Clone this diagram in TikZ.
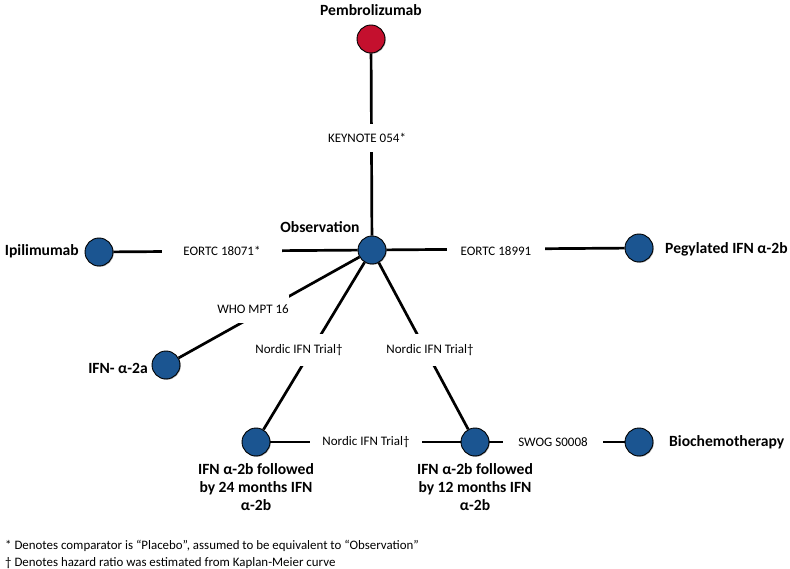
\documentclass[tikz,border=0pt]{standalone}
\usepackage{fontspec}
\setmainfont{Carlito}
\usetikzlibrary{shadows}
\definecolor{nodeblue}{RGB}{27,85,145}
\definecolor{nodered}{RGB}{196,16,46}
\tikzset{
  trt/.style={circle, draw=black, line width=0.9pt, fill=nodeblue, minimum size=28pt, inner sep=0pt,
    drop shadow={shadow xshift=0.8pt, shadow yshift=-0.8pt, opacity=0.3, fill=black}},
  trtred/.style={trt, fill=nodered},
  tname/.style={font=\fontsize{15.6}{18}\selectfont\bfseries, inner sep=0pt},
  lbl/.style={font=\fontsize{13}{15}\selectfont, fill=white, inner sep=0pt, minimum height=14pt},
  conn/.style={line width=2.7pt, draw=black},
  foot/.style={font=\fontsize{12.9}{15}\selectfont, inner sep=0pt, anchor=west}
}
\begin{document}
\begin{tikzpicture}[x=1pt, y=-1pt]
\useasboundingbox (0,0) rectangle (790,569);
% treatment nodes
\node[trtred] (pem) at (371,39) {};
\node[trt] (obs) at (372,250) {};
\node[trt] (ipi) at (99,252) {};
\node[trt] (peg) at (639,248) {};
\node[trt] (a2a) at (166,365) {};
\node[trt] (m24) at (256,442) {};
\node[trt] (m12) at (475,442) {};
\node[trt] (bio) at (639,442) {};
% names
\node[tname] (tpem) at (371,10) {Pembrolizumab};
\node[tname] (tobs) at (320,227) {Observation};
\node[tname, anchor=east] (tipi) at (79,251) {Ipilimumab};
\node[tname, anchor=west] (tpeg) at (665,249) {Pegylated IFN α-2b};
\node[tname, anchor=east] (ta2a) at (148,368) {IFN- α-2a};
\node[tname, anchor=north, align=center] (tm24) at (256,463) {IFN α-2b followed\\by 24 months IFN\\α-2b};
\node[tname, anchor=north, align=center] (tm12) at (475,463) {IFN α-2b followed\\by 12 months IFN\\α-2b};
\node[tname, anchor=west] (tbio) at (669,442) {Biochemotherapy};
% connectors
\draw[conn] (pem) -- (obs);
\draw[conn] (ipi) -- (obs);
\draw[conn] (obs) -- (peg);
\draw[conn] (obs) -- (a2a);
\draw[conn] (obs) -- (m24);
\draw[conn] (obs) -- (m12);
\draw[conn] (m24) -- (m12);
\draw[conn] (m12) -- (bio);
% trial labels
\node[lbl, minimum height=28pt, minimum width=90pt] (kn) at (367,138) {KEYNOTE 054*};
\node[lbl, minimum width=120pt] (e18071) at (222,251) {EORTC 18071*};
\node[lbl, minimum width=98pt] (e18991) at (496,251) {EORTC 18991};
\node[lbl, minimum height=28pt] (who) at (253,309) {WHO MPT 16};
\node[lbl, minimum height=32pt] (nord1) at (299,350) {Nordic IFN Trial†};
\node[lbl, minimum height=32pt] (nord2) at (430,350) {Nordic IFN Trial†};
\node[lbl, minimum width=112pt] (nord3) at (366,442) {Nordic IFN Trial†};
\node[lbl, minimum width=100pt] (swog) at (553,442) {SWOG S0008};
% footnotes
\node[foot] (f1) at (5,546) {* Denotes comparator is “Placebo”, assumed to be equivalent to “Observation”};
\node[foot] (f2) at (5,563) {† Denotes hazard ratio was estimated from Kaplan-Meier curve};
\end{tikzpicture}
\end{document}
